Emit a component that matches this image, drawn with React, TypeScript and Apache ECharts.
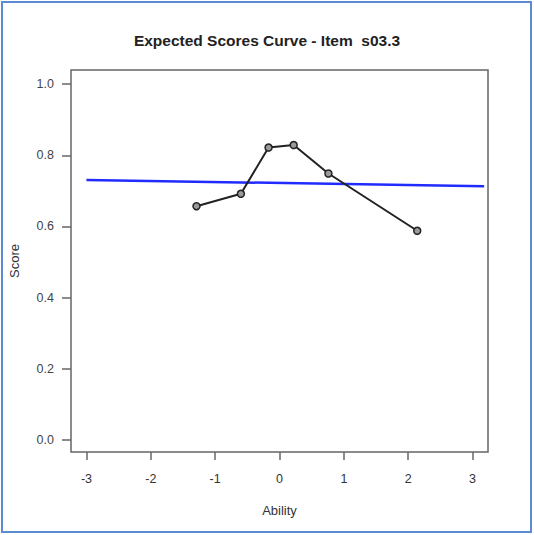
import React, { useEffect, useRef } from "react";
import * as echarts from "echarts";

const titleText = "Expected Scores Curve - Item  s03.3";
const xTicks = [-3, -2, -1, 0, 1, 2, 3];
const yTicks = [0, 0.2, 0.4, 0.6, 0.8, 1.0];
const observedAbility = [-1.29, -0.6, -0.17, 0.22, 0.76, 2.14];
const observedScore = [0.657, 0.692, 0.822, 0.829, 0.749, 0.588];
const modelAbility = [-3, 3.18];
const modelScore = [0.731, 0.713];

export default function App() {
  const ref = useRef<HTMLDivElement>(null);
  useEffect(() => {
    if (!ref.current) return;
    const chart = echarts.init(ref.current, null, { renderer: "svg" });
    const font = "Liberation Sans, Arial, sans-serif";
    chart.setOption({
      animation: false,
      backgroundColor: "#ffffff",
      title: {
        text: titleText,
        left: "center",
        top: 27,
        textStyle: { fontFamily: font, fontSize: 15.5, fontWeight: "bold", color: "#222" },
      },
      grid: {
        left: 67,
        right: 46,
        top: 70,
        bottom: 83,
        show: true,
        borderColor: "#666",
        borderWidth: 1.5,
        backgroundColor: "transparent",
      },
      xAxis: {
        type: "value",
        min: -3.24,
        max: 3.24,
        name: "Ability",
        nameLocation: "middle",
        nameGap: 52,
        nameTextStyle: { fontFamily: font, fontSize: 13, color: "#333" },
        axisLine: { show: false, onZero: false },
        splitLine: { show: false },
        axisTick: {
          show: true,
          length: 8,
          customValues: xTicks,
          lineStyle: { color: "#666", width: 1.5 },
        },
        axisLabel: {
          customValues: xTicks,
          margin: 20,
          fontFamily: font,
          fontSize: 12.5,
          color: "#333",
          formatter: (v: number) => String(v),
        },
      },
      yAxis: {
        type: "value",
        min: -0.034,
        max: 1.04,
        name: "Score",
        nameLocation: "middle",
        nameGap: 50,
        nameRotate: 90,
        nameTextStyle: { fontFamily: font, fontSize: 13, color: "#333" },
        axisLine: { show: false, onZero: false },
        splitLine: { show: false },
        axisTick: {
          show: true,
          length: 9,
          customValues: yTicks,
          lineStyle: { color: "#666", width: 1.5 },
        },
        axisLabel: {
          customValues: yTicks,
          margin: 17,
          fontFamily: font,
          fontSize: 12.5,
          color: "#444",
          formatter: (v: number) => v.toFixed(1),
        },
      },
      graphic: [
        {
          type: "rect",
          shape: { x: 2, y: 2, width: 529, height: 530 },
          style: { fill: "none", stroke: "#5b8bd0", lineWidth: 2 },
          silent: true,
        },
      ],
      series: [
        {
          type: "line",
          data: modelAbility.map((x, i) => [x, modelScore[i]]),
          showSymbol: false,
          lineStyle: { color: "#1f2bff", width: 2.5 },
          z: 2,
        },
        {
          type: "line",
          data: observedAbility.map((x, i) => [x, observedScore[i]]),
          symbol: "circle",
          symbolSize: 7,
          itemStyle: { color: "#9a9a9a", borderColor: "#222", borderWidth: 1.5 },
          lineStyle: { color: "#222", width: 2 },
          z: 3,
        },
      ],
    });
    return () => chart.dispose();
  }, []);
  return (
    <div
      ref={ref}
      style={{ position: "absolute", left: 0, top: 0, width: 534, height: 535 }}
    />
  );
}
